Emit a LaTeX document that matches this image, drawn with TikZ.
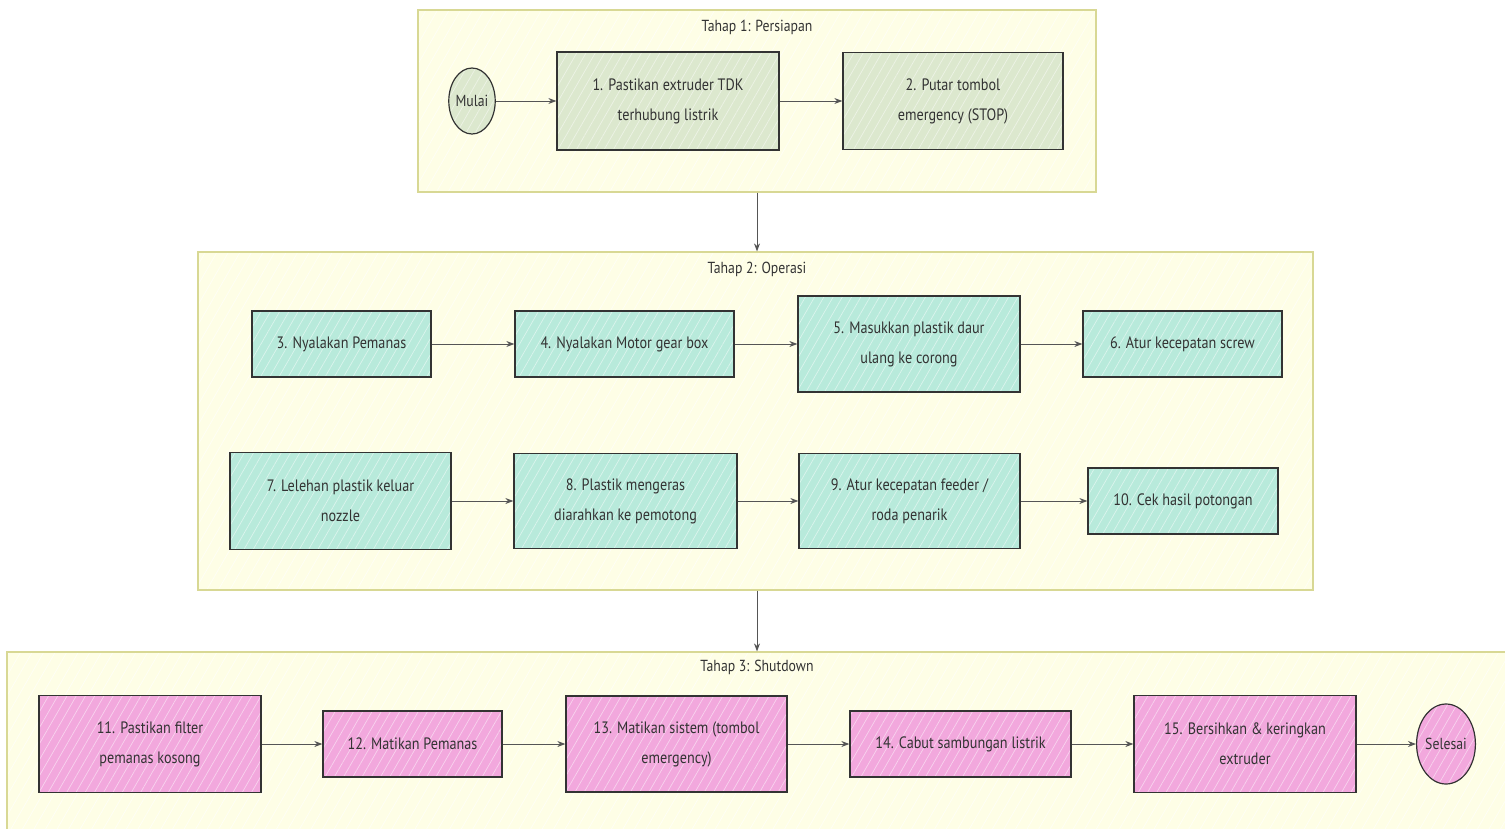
\documentclass[tikz,border=0pt]{standalone}
\usepackage{fontspec}
\setmainfont{PT Sans}[FakeStretch=0.86]
\usetikzlibrary{arrows.meta,patterns.meta,shapes.geometric}
\definecolor{clfill}{HTML}{FEFEE6}
\definecolor{clline}{HTML}{D8D894}
\definecolor{gfill}{HTML}{DCE8CE}
\definecolor{tfill}{HTML}{B8EADB}
\definecolor{pfill}{HTML}{F2A8DD}
\definecolor{ink}{HTML}{333333}
\definecolor{edgec}{HTML}{555555}
\begin{document}
\begin{tikzpicture}[x=1pt,y=-1pt,
  hatch/.style={preaction={fill=#1},preaction={pattern={Lines[angle=60,distance=8pt,line width=0.7pt]},pattern color=white!50!#1}},
  cluster/.style={rectangle,draw=clline,line width=1.2pt,inner sep=0pt,
    preaction={fill=clfill},preaction={pattern={Lines[angle=60,distance=10pt,line width=0.6pt]},pattern color=white!70!clfill}},
  ctitle/.style={font=\fontsize{16}{18}\selectfont,text=ink,inner sep=0pt},
  box/.style={rectangle,draw=ink,line width=1.3pt,align=center,text=ink,
    font=\fontsize{16.5}{30}\selectfont,inner sep=0pt},
  gbox/.style={box,hatch=gfill},
  tbox/.style={box,hatch=tfill},
  pbox/.style={box,hatch=pfill},
  term/.style={ellipse,draw=ink,line width=1.2pt,text=ink,font=\fontsize{16}{18}\selectfont,inner sep=0pt},
  arr/.style={draw=edgec,line width=0.9pt,-{Stealth[length=8pt,width=6pt]}}
]
\useasboundingbox (0,0) rectangle (1505,828);
\fill[white] (0,0) rectangle (1505,828);

% clusters
\node[cluster,minimum width=678,minimum height=182] (c1) at (757,101) {};
\node[cluster,minimum width=1115,minimum height=338] (c2) at (755.5,421) {};
\node[cluster,minimum width=1502,minimum height=182] (c3) at (758,743) {};
\node[ctitle] (t1) at (757,27) {Tahap 1: Persiapan};
\node[ctitle] (t2) at (757,269) {Tahap 2: Operasi};
\node[ctitle] (t3) at (757,667) {Tahap 3: Shutdown};

% stage 1
\node[term,hatch=gfill,minimum width=46,minimum height=66] (mulai) at (472,101) {Mulai};
\node[gbox,minimum width=222,minimum height=98] (n1) at (668,101) {1. Pastikan extruder TDK\\terhubung listrik};
\node[gbox,minimum width=220,minimum height=97] (n2) at (953,101) {2. Putar tombol\\emergency (STOP)};

% stage 2
\node[tbox,minimum width=179,minimum height=66] (n3) at (341.5,344) {3. Nyalakan Pemanas};
\node[tbox,minimum width=219,minimum height=66] (n4) at (624.5,344) {4. Nyalakan Motor gear box};
\node[tbox,minimum width=222,minimum height=96] (n5) at (909,344) {5. Masukkan plastik daur\\ulang ke corong};
\node[tbox,minimum width=199,minimum height=66] (n6) at (1182.5,344) {6. Atur kecepatan screw};
\node[tbox,minimum width=221,minimum height=97] (n7) at (340.5,501) {7. Lelehan plastik keluar\\nozzle};
\node[tbox,minimum width=223,minimum height=95] (n8) at (625.5,501) {8. Plastik mengeras\\diarahkan ke pemotong};
\node[tbox,minimum width=221,minimum height=95] (n9) at (909.5,501) {9. Atur kecepatan feeder /\\roda penarik};
\node[tbox,minimum width=190,minimum height=66] (n10) at (1183,501) {10. Cek hasil potongan};

% stage 3
\node[pbox,minimum width=222,minimum height=97] (n11) at (150,744) {11. Pastikan filter\\pemanas kosong};
\node[pbox,minimum width=179,minimum height=66] (n12) at (412.5,744) {12. Matikan Pemanas};
\node[pbox,minimum width=221,minimum height=96] (n13) at (676.5,744) {13. Matikan sistem (tombol\\emergency)};
\node[pbox,minimum width=221,minimum height=66] (n14) at (960.5,744) {14. Cabut sambungan listrik};
\node[pbox,minimum width=222,minimum height=97] (n15) at (1245,744) {15. Bersihkan \& keringkan\\extruder};
\node[term,hatch=pfill,minimum width=56,minimum height=80] (selesai) at (1446,744) {Selesai};

% edges
\draw[arr] (mulai) -- (n1);
\draw[arr] (n1) -- (n2);
\draw[arr] (c1.south) -- (c1.south |- c2.north);
\draw[arr] (n3) -- (n4);
\draw[arr] (n4) -- (n5);
\draw[arr] (n5) -- (n6);
\draw[arr] (n7) -- (n8);
\draw[arr] (n8) -- (n9);
\draw[arr] (n9) -- (n10);
\draw[arr] (c1.south |- c2.south) -- (c1.south |- c3.north);
\draw[arr] (n11) -- (n12);
\draw[arr] (n12) -- (n13);
\draw[arr] (n13) -- (n14);
\draw[arr] (n14) -- (n15);
\draw[arr] (n15) -- (selesai);
\end{tikzpicture}
\end{document}
